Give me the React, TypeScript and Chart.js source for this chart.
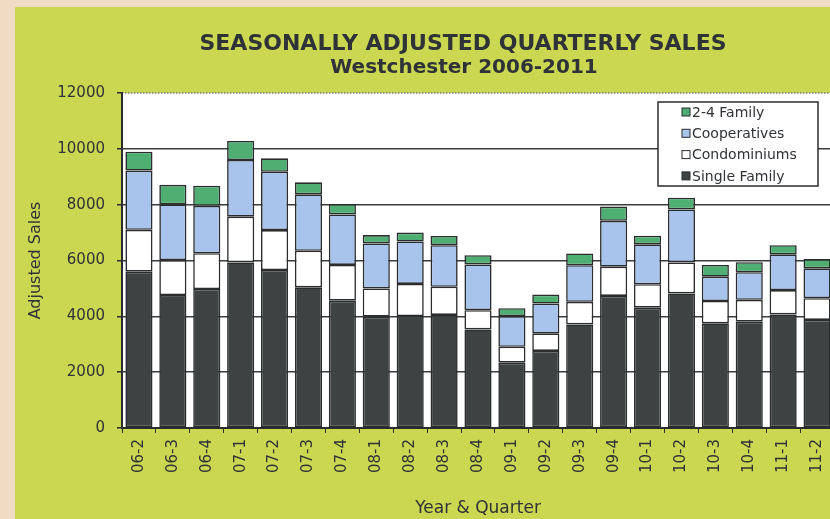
import React, { useEffect, useRef } from "react";
import { Chart, registerables } from "chart.js";

Chart.register(...registerables);

const CATEGORIES = [
  "06-2", "06-3", "06-4", "07-1", "07-2", "07-3", "07-4", "08-1", "08-2", "08-3", "08-4",
  "09-1", "09-2", "09-3", "09-4", "10-1", "10-2", "10-3", "10-4", "11-1", "11-2",
];
const SINGLE_FAMILY = [5600, 4760, 4980, 5930, 5660, 5040, 4560, 3990, 4010, 4050, 3530, 2340, 2760, 3710, 4730, 4310, 4820, 3750, 3810, 4070, 3870];
const CONDOMINIUMS = [1500, 1250, 1280, 1640, 1430, 1310, 1280, 1010, 1150, 1010, 690, 570, 630, 810, 1050, 840, 1110, 800, 780, 870, 780];
const COOPERATIVES = [2120, 2000, 1700, 2030, 2090, 2020, 1810, 1610, 1520, 1490, 1640, 1100, 1070, 1310, 1640, 1430, 1900, 870, 990, 1280, 1070];
const TWO_FOUR_FAMILY = [680, 700, 720, 680, 480, 430, 370, 300, 320, 330, 330, 280, 320, 420, 510, 310, 420, 420, 360, 330, 330];
const Y_TICKS = [0, 2000, 4000, 6000, 8000, 10000, 12000];
const Y_MAX = 12000;
const TITLE_LINES = ["SEASONALLY ADJUSTED QUARTERLY SALES", "Westchester 2006-2011"];
const Y_TITLE = "Adjusted Sales";
const X_TITLE = "Year & Quarter";

const FONT = "'DejaVu Sans', 'Liberation Sans', sans-serif";
const TEXT = "#2f3236";
const EDGE = "#2a2c2e";

const decorPlugin = {
  id: "decor",
  beforeDraw(chart: any) {
    const { ctx, chartArea } = chart;
    ctx.save();
    ctx.fillStyle = "#ffffff";
    ctx.fillRect(chartArea.left, chartArea.top, chartArea.right - chartArea.left, chartArea.bottom - chartArea.top);
    // dotted top border of the plot area
    ctx.strokeStyle = "#7d7f82";
    ctx.lineWidth = 1.5;
    ctx.setLineDash([1.5, 1.5]);
    ctx.beginPath();
    ctx.moveTo(chartArea.left, chartArea.top);
    ctx.lineTo(chartArea.right, chartArea.top);
    ctx.stroke();
    ctx.restore();
  },
  afterDraw(chart: any) {
    const { ctx } = chart;
    ctx.save();
    // titles
    ctx.fillStyle = TEXT;
    ctx.textAlign = "center";
    ctx.textBaseline = "alphabetic";
    ctx.font = `bold 22px ${FONT}`;
    ctx.fillText(TITLE_LINES[0], 463, 50);
    ctx.font = `bold 20px ${FONT}`;
    ctx.fillText(TITLE_LINES[1], 464, 73);

    // legend
    const lx = 658, ly = 102, lw = 160, lh = 84;
    ctx.fillStyle = "#ffffff";
    ctx.fillRect(lx, ly, lw, lh);
    ctx.strokeStyle = EDGE;
    ctx.lineWidth = 1.5;
    ctx.strokeRect(lx, ly, lw, lh);
    const ds = [...chart.data.datasets].reverse();
    ctx.font = `14px ${FONT}`;
    ctx.textAlign = "left";
    ctx.textBaseline = "middle";
    ds.forEach((d: any, i: number) => {
      const cy = 112 + i * 21.3;
      ctx.fillStyle = d.backgroundColor;
      ctx.fillRect(682, cy - 4, 8, 8);
      ctx.strokeStyle = EDGE;
      ctx.lineWidth = 1;
      ctx.strokeRect(682, cy - 4, 8, 8);
      ctx.fillStyle = TEXT;
      ctx.fillText(d.label, 692, cy + 1);
    });
    ctx.restore();
  },
};

export default function App() {
  const ref = useRef<HTMLCanvasElement | null>(null);

  useEffect(() => {
    if (!ref.current) return;
    const mk = (label: string, data: number[], color: string) => ({
      label,
      data,
      backgroundColor: color,
      borderColor: EDGE,
      borderWidth: 1.6,
      borderSkipped: false as const,
      barPercentage: 0.8,
      categoryPercentage: 1.0,
    });
    const chart = new Chart(ref.current, {
      type: "bar",
      data: {
        labels: CATEGORIES,
        datasets: [
          mk("Single Family", SINGLE_FAMILY, "#3e4242"),
          mk("Condominiums", CONDOMINIUMS, "#ffffff"),
          mk("Cooperatives", COOPERATIVES, "#a9c4ec"),
          mk("2-4 Family", TWO_FOUR_FAMILY, "#4fae72"),
        ],
      },
      options: {
        responsive: false,
        animation: false,
        layout: { padding: { top: 93, left: 22, right: 26, bottom: 0 } },
        plugins: {
          legend: { display: false },
          title: { display: false },
          tooltip: { enabled: false },
        },
        scales: {
          x: {
            stacked: true,
            afterFit: (s: any) => { s.height = 91; },
            grid: {
              display: true,
              drawOnChartArea: false,
              tickLength: 5,
              tickColor: EDGE,
              tickWidth: 1,
            },
            border: { display: true, color: EDGE, width: 2 },
            ticks: {
              minRotation: 90,
              maxRotation: 90,
              padding: 6,
              color: TEXT,
              font: { family: FONT, size: 15 },
            },
            title: {
              display: true,
              text: X_TITLE,
              color: TEXT,
              padding: { top: 0, bottom: 0 },
              font: { family: FONT, size: 17 },
            },
          },
          y: {
            stacked: true,
            min: 0,
            max: Y_MAX,
            afterFit: (s: any) => { s.width = 100; },
            afterBuildTicks: (s: any) => { s.ticks = Y_TICKS.map((v) => ({ value: v })); },
            grid: {
              color: (c: any) => (c.tick && c.tick.value === Y_MAX ? "rgba(0,0,0,0)" : "#3a3c3e"),
              lineWidth: 1.5,
              tickLength: 5,
              tickColor: EDGE,
              tickWidth: 1.5,
            },
            border: { display: true, color: EDGE, width: 2 },
            ticks: {
              padding: 12,
              color: TEXT,
              font: { family: FONT, size: 15 },
              callback: (v: any) => String(v),
            },
            title: {
              display: true,
              text: Y_TITLE,
              color: TEXT,
              padding: { top: 4, bottom: 4 },
              font: { family: FONT, size: 16 },
            },
          },
        },
      },
      plugins: [decorPlugin],
    });
    return () => chart.destroy();
  }, []);

  return (
    <div style={{ position: "fixed", left: 0, top: 0, width: 830, height: 519, overflow: "hidden", background: "#efdcc2" }}>
      <div style={{ position: "absolute", left: 15, top: 7, right: 0, bottom: 0, background: "#cbd751" }} />
      <canvas ref={ref} width={860} height={519} style={{ position: "absolute", left: 0, top: 0, width: 860, height: 519 }} />
    </div>
  );
}
